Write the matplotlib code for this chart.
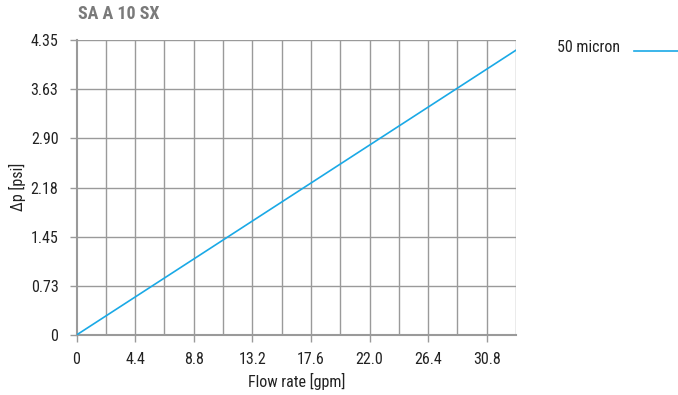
import matplotlib
matplotlib.use("Agg")
import matplotlib.pyplot as plt
from matplotlib import font_manager

names = {f.name for f in font_manager.fontManager.ttflist}
fam = "Roboto"
for cand in ["Roboto Condensed", "Liberation Sans Narrow", "Open Sans Condensed", "DejaVu Sans Condensed"]:
    if cand in names:
        fam = cand
        break
plt.rcParams['font.family'] = [fam, 'DejaVu Sans']

flow = [0.0, 33.0]
dp_50 = [0.0, 4.20]
x_ticks = [0, 4.4, 8.8, 13.2, 17.6, 22.0, 26.4, 30.8]
x_labels = ["0", "4.4", "8.8", "13.2", "17.6", "22.0", "26.4", "30.8"]
y_ticks = [0, 0.725, 1.45, 2.175, 2.90, 3.625, 4.35]
y_labels = ["0", "0.73", "1.45", "2.18", "2.90", "3.63", "4.35"]
x_grid = [i * 2.2 for i in range(16)]

fig = plt.figure(figsize=(6.78, 3.95), dpi=100)
ax = fig.add_axes([76.5/678, 1 - 335/395, (516 - 76.5)/678, (335 - 40)/395])
ax.set_xlim(0, 33.0)
ax.set_ylim(0, 4.35)

for xv in x_grid[1:]:
    ax.axvline(xv, color="#9a9a9a", lw=1.0, zorder=1)
for yv in y_ticks[1:]:
    ax.axhline(yv, color="#9a9a9a", lw=1.0, zorder=1)

ax.plot(flow, dp_50, color="#1aa9e6", lw=1.2, zorder=3)

for s in ["top", "right"]:
    ax.spines[s].set_visible(False)
ax.spines["left"].set_color("#9a9a9a")
ax.spines["bottom"].set_color("#9a9a9a")
ax.spines["left"].set_linewidth(1.5)
ax.spines["bottom"].set_linewidth(1.5)

ax.set_xticks(x_ticks)
ax.set_xticklabels(x_labels)
ax.set_yticks(y_ticks)
ax.set_yticklabels(y_labels)
ax.tick_params(axis="x", length=5, width=1, color="#9a9a9a", pad=7, labelsize=11.5, labelcolor="#222222")
ax.tick_params(axis="y", length=5, width=1, color="#9a9a9a", pad=8, labelsize=11.5, labelcolor="#222222")

ax.set_xlabel("Flow rate [gpm]", fontsize=11.5, color="#222222", va="center")
ax.xaxis.set_label_coords((297 - 76.5) / (516 - 76.5), -(381 - 335) / (335 - 40))
ax.set_ylabel("Δp [psi]", fontsize=11.5, color="#222222", va="center")
ax.yaxis.set_label_coords(-(76.5 - 17) / (516 - 76.5), (335 - 187) / (335 - 40))

fig.text(78/678, 1 - 14/395, "SA A 10 SX", fontsize=13, fontweight="bold", color="#7a7a7a", va="center", ha="left")

fig.text(557/678, 1 - 48/395, "50 micron", fontsize=11.5, color="#222222", va="center", ha="left")
fig.add_artist(matplotlib.lines.Line2D([634/678, 678/678], [1 - 51/395, 1 - 51/395], color="#1aa9e6", lw=1.2))

fig.savefig("out.png", dpi=100, facecolor="white")
